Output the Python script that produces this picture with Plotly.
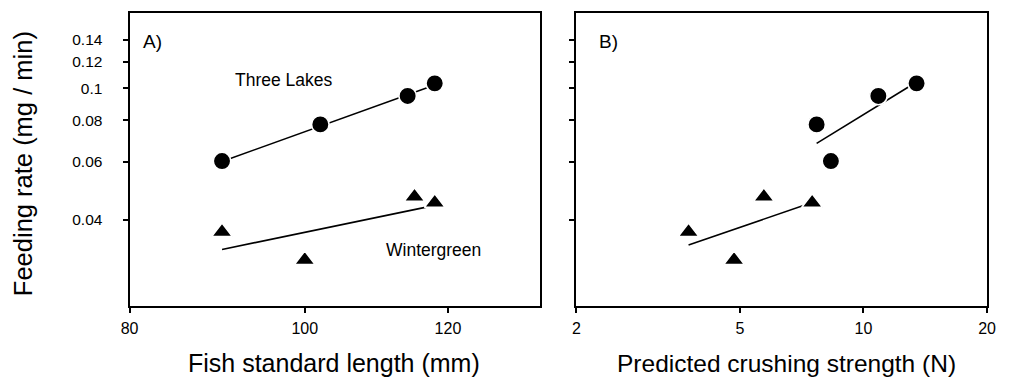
import plotly.graph_objects as go
import numpy as np

# ---- data ----
length_TL = [90, 102, 114, 118]
rate_TL = [0.0603, 0.0778, 0.0948, 0.1035]
length_WG = [90, 100, 115, 118]
rate_WG = [0.0368, 0.0303, 0.0470, 0.0451]

crush_TL = [7.69, 8.33, 10.87, 13.47]
crush_rate_TL = [0.0778, 0.0603, 0.0948, 0.1035]
crush_WG = [3.75, 4.84, 5.72, 7.5]
crush_rate_WG = [0.0368, 0.0303, 0.0470, 0.0451]

# fitted lines (endpoints)
fitA_TL_x = [90, 118]
fitA_TL_y = [0.0601, 0.1023]
fitA_WG_x = [90, 118]
fitA_WG_y = [0.0326, 0.0443]
fitB_TL_x = [7.69, 13.47]
fitB_TL_y = [0.0682, 0.1045]
fitB_WG_x = [3.75, 7.5]
fitB_WG_y = [0.0336, 0.0452]

y_ticks = [0.04, 0.06, 0.08, 0.1, 0.12, 0.14]
y_ticktext = ["0.04", "0.06", "0.08", "0.1", "0.12", "0.14"]
xA_ticks = [80, 100, 120]
xB_ticks = [2, 5, 10, 20]

FONT = "Liberation Sans, Arial, sans-serif"
W, H = 1017, 378

fig = go.Figure()

def line(x, y, xa, ya):
    fig.add_trace(go.Scatter(x=x, y=y, mode="lines", xaxis=xa, yaxis=ya,
                             line=dict(color="black", width=1.6),
                             showlegend=False, hoverinfo="skip"))

def pts(x, y, xa, ya, symbol, size):
    fig.add_trace(go.Scatter(x=x, y=y, mode="markers", xaxis=xa, yaxis=ya,
                             marker=dict(symbol=symbol, size=size, color="black",
                                         line=dict(color="white", width=1.6)),
                             showlegend=False))

line(fitA_TL_x, fitA_TL_y, "x", "y")
line(fitA_WG_x, fitA_WG_y, "x", "y")
pts(length_TL, rate_TL, "x", "y", "circle", 17.5)
pts(length_WG, rate_WG, "x", "y", "triangle-up", 18)

line(fitB_TL_x, fitB_TL_y, "x2", "y2")
line(fitB_WG_x, fitB_WG_y, "x2", "y2")
pts(crush_TL, crush_rate_TL, "x2", "y2", "circle", 17.5)
pts(crush_WG, crush_rate_WG, "x2", "y2", "triangle-up", 18)

yrange = [np.log10(0.022), np.log10(0.1688)]
ydom = [(H - 306) / H, (H - 13) / H]

axis_common = dict(showline=True, linecolor="black", linewidth=2, mirror=True,
                   ticks="outside", ticklen=5, tickwidth=1.5, tickcolor="black",
                   showgrid=False, zeroline=False)
xtickfont = dict(family=FONT, size=16, color="black")
ytickfont = dict(family=FONT, size=15.5, color="black")

fig.update_layout(
    width=W, height=H,
    margin=dict(l=0, r=0, t=0, b=0),
    paper_bgcolor="white", plot_bgcolor="white",
    font=dict(family=FONT, color="black"),
    xaxis=dict(type="log", range=[np.log10(80), np.log10(135)],
               domain=[122.7 / W, 541 / W], anchor="y",
               tickvals=xA_ticks, ticktext=[str(v) for v in xA_ticks],
               tickfont=xtickfont, ticklabelstandoff=2, **axis_common),
    yaxis=dict(type="log", range=yrange, domain=ydom, anchor="x",
               tickvals=y_ticks, ticktext=y_ticktext,
               tickfont=ytickfont, ticklabelstandoff=17, **axis_common),
    xaxis2=dict(type="log", range=[np.log10(2), np.log10(20)],
                domain=[577.7 / W, 995.7 / W], anchor="y2",
                tickvals=xB_ticks, ticktext=[str(v) for v in xB_ticks],
                tickfont=xtickfont, ticklabelstandoff=2, **axis_common),
    yaxis2=dict(type="log", range=yrange, domain=ydom, anchor="x2",
                tickvals=y_ticks, showticklabels=False, **axis_common),
)

ann = [
    dict(text="A)", x=146, y=41, size=19),
    dict(text="B)", x=610, y=41, size=19),
    dict(text="Three Lakes", x=280, y=79.5, size=17.5),
    dict(text="Wintergreen", x=432, y=250, size=17.5),
    dict(text="Fish standard length (mm)", x=331, y=363, size=25),
    dict(text="Predicted crushing strength (N)", x=792, y=363, size=24.5),
]
for a in ann:
    fig.add_annotation(text=a["text"], x=a["x"] / W, y=(H - a["y"]) / H,
                       xref="paper", yref="paper",
                       showarrow=False, xanchor="center", yanchor="middle",
                       font=dict(family=FONT, size=a["size"], color="black"))
fig.add_annotation(text="Feeding rate (mg / min)", x=15 / W, y=(H - 163.4) / H,
                   xref="paper", yref="paper", showarrow=False, textangle=-90,
                   xanchor="center", yanchor="middle",
                   font=dict(family=FONT, size=25.5, color="black"))

fig.write_html("out.html")
